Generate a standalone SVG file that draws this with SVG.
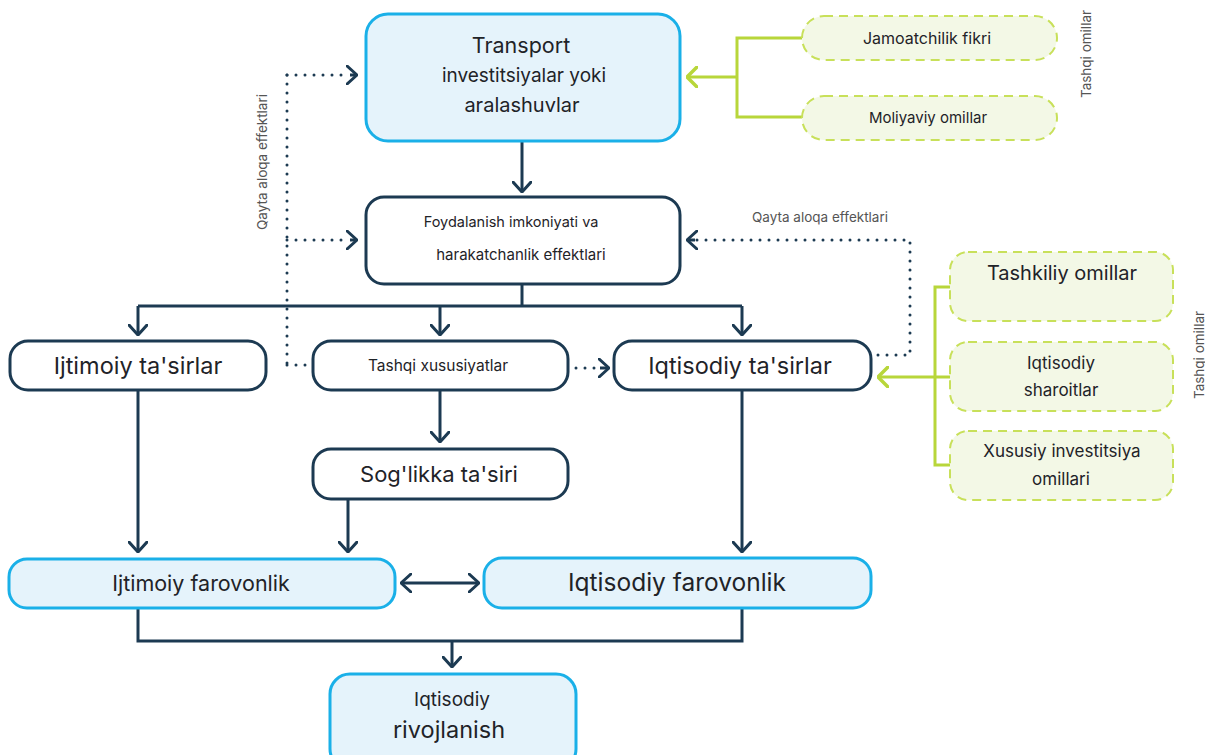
<svg xmlns="http://www.w3.org/2000/svg" width="1205" height="755" viewBox="0 0 1205 755">
<defs>
<style>
.t{font-family:Inter,"Liberation Sans",sans-serif;fill:#1f2328;text-anchor:middle}
.lbl{font-family:Inter,"Liberation Sans",sans-serif;fill:#555;font-size:13.5px;text-anchor:middle}
.dark{fill:#ffffff;stroke:#1c3a52;stroke-width:3}
.blue{fill:#e5f3fb;stroke:#1ab0e8;stroke-width:3}
.green{fill:#f3f8e6;stroke:#c8e05a;stroke-width:2;stroke-dasharray:9 6}
.c{fill:none;stroke:#1c3a52;stroke-width:3}
.dot{fill:none;stroke:#1c3a52;stroke-width:3;stroke-linecap:round;stroke-dasharray:0 9}
.g{fill:none;stroke:#b8d63a;stroke-width:3}
</style>
<marker id="ah" viewBox="0 0 12 20" refX="11" refY="10" markerWidth="12" markerHeight="20" markerUnits="userSpaceOnUse" orient="auto">
<path d="M1,1 L11,10 L1,19" fill="none" stroke="#1c3a52" stroke-width="3" stroke-linecap="round" stroke-linejoin="round"/>
</marker>
<marker id="ahs" viewBox="0 0 12 20" refX="1" refY="10" markerWidth="12" markerHeight="20" markerUnits="userSpaceOnUse" orient="auto">
<path d="M11,1 L1,10 L11,19" fill="none" stroke="#1c3a52" stroke-width="3" stroke-linecap="round" stroke-linejoin="round"/>
</marker>
<marker id="ag" viewBox="0 0 12 22" refX="11" refY="11" markerWidth="12" markerHeight="22" markerUnits="userSpaceOnUse" orient="auto">
<path d="M1,1 L11,11 L1,21" fill="none" stroke="#b8d63a" stroke-width="3.5" stroke-linecap="round" stroke-linejoin="round"/>
</marker>
</defs>

<g id="connectors">
<line class="c" x1="522" y1="142" x2="522" y2="192" marker-end="url(#ah)"/>
<polyline class="c" points="522,285 522,306"/>
<line class="c" x1="138" y1="306" x2="742" y2="306"/>
<line class="c" x1="138" y1="306" x2="138" y2="335" marker-end="url(#ah)"/>
<line class="c" x1="440" y1="306" x2="440" y2="335" marker-end="url(#ah)"/>
<line class="c" x1="742" y1="306" x2="742" y2="335" marker-end="url(#ah)"/>
<line class="c" x1="440" y1="391" x2="440" y2="442" marker-end="url(#ah)"/>
<line class="c" x1="348" y1="500" x2="348" y2="552" marker-end="url(#ah)"/>
<line class="c" x1="138" y1="391" x2="138" y2="552" marker-end="url(#ah)"/>
<line class="c" x1="742" y1="391" x2="742" y2="552" marker-end="url(#ah)"/>
<line class="c" x1="401" y1="583" x2="479" y2="583" marker-start="url(#ahs)" marker-end="url(#ah)"/>
<polyline class="c" points="138,609 138,641 742,641 742,609"/>
<line class="c" x1="452" y1="641" x2="452" y2="667" marker-end="url(#ah)"/>

<!-- dotted feedback -->
<line class="dot" x1="287" y1="75" x2="287" y2="365"/>
<line class="dot" x1="287" y1="75" x2="350" y2="75"/>
<line class="c" x1="350" y1="75" x2="357" y2="75" marker-end="url(#ah)" stroke-width="0"/>
<line class="dot" x1="287" y1="240" x2="350" y2="240"/>
<line class="c" x1="350" y1="240" x2="357" y2="240" marker-end="url(#ah)" stroke-width="0"/>
<line class="dot" x1="287" y1="365" x2="306" y2="365"/>
<line class="dot" x1="576" y1="368" x2="600" y2="368"/>
<line class="c" x1="600" y1="368" x2="609" y2="368" marker-end="url(#ah)" stroke-width="0"/>
<polyline class="dot" points="878,355 910,355 910,240 695,240"/>
<line class="c" x1="695" y1="240" x2="687" y2="240" marker-end="url(#ah)" stroke-width="0"/>

<!-- green connectors -->
<polyline class="g" points="802,38 737,38 737,117 802,117"/>
<line class="g" x1="737" y1="77" x2="687" y2="77" marker-end="url(#ag)"/>
<polyline class="g" points="950,287 935,287 935,465 950,465"/>
<line class="g" x1="950" y1="377" x2="878" y2="377" marker-end="url(#ag)"/>
</g>

<g id="labels">
<text class="lbl" transform="translate(267,162) rotate(-90)">Qayta aloqa effektlari</text>
<text class="lbl" x="820" y="222">Qayta aloqa effektlari</text>
<text class="lbl" transform="translate(1091,54) rotate(-90)">Tashqi omillar</text>
<text class="lbl" transform="translate(1204,355) rotate(-90)">Tashqi omillar</text>
</g>

<g id="n-transport">
<rect class="blue" x="366" y="14" width="314" height="127" rx="22"/>
<text class="t" x="521" y="53" font-size="21.5">Transport</text>
<text class="t" x="524" y="82" font-size="19">investitsiyalar yoki</text>
<text class="t" x="522" y="112" font-size="20">aralashuvlar</text>
</g>

<g id="n-foydalanish">
<rect class="dark" x="366" y="197" width="314" height="87" rx="18"/>
<text class="t" x="511" y="227" font-size="14.5">Foydalanish imkoniyati va</text>
<text class="t" x="521" y="260" font-size="15">harakatchanlik effektlari</text>
</g>

<g id="n-ijtimoiy-tasir">
<rect class="dark" x="10" y="341" width="256" height="49" rx="18"/>
<text class="t" x="138" y="374" font-size="23.5">Ijtimoiy ta'sirlar</text>
</g>

<g id="n-tashqi-xus">
<rect class="dark" x="313" y="341" width="255" height="49" rx="18"/>
<text class="t" x="438" y="371" font-size="15.5">Tashqi xususiyatlar</text>
</g>

<g id="n-iqtisodiy-tasir">
<rect class="dark" x="614" y="341" width="257" height="49" rx="18"/>
<text class="t" x="740" y="374" font-size="23.5">Iqtisodiy ta'sirlar</text>
</g>

<g id="n-soglik">
<rect class="dark" x="313" y="449" width="255" height="50" rx="18"/>
<text class="t" x="439" y="482" font-size="22">Sog'likka ta'siri</text>
</g>

<g id="n-ijtimoiy-far">
<rect class="blue" x="9" y="559" width="386" height="49" rx="18"/>
<text class="t" x="201" y="591" font-size="21.5">Ijtimoiy farovonlik</text>
</g>

<g id="n-iqtisodiy-far">
<rect class="blue" x="484" y="558" width="387" height="50" rx="18"/>
<text class="t" x="677" y="591" font-size="24.5">Iqtisodiy farovonlik</text>
</g>

<g id="n-rivojlanish">
<rect class="blue" x="330" y="674" width="246" height="95" rx="20"/>
<text class="t" x="452" y="706" font-size="19">Iqtisodiy</text>
<text class="t" x="449" y="738" font-size="23.5">rivojlanish</text>
</g>

<g id="n-jamoatchilik">
<rect class="green" x="802" y="16" width="255" height="44" rx="22"/>
<text class="t" x="927" y="44" font-size="16">Jamoatchilik fikri</text>
</g>

<g id="n-moliyaviy">
<rect class="green" x="802" y="96" width="255" height="44" rx="22"/>
<text class="t" x="928" y="123" font-size="15">Moliyaviy omillar</text>
</g>

<g id="n-tashkiliy">
<rect class="green" x="950" y="252" width="223" height="69" rx="18"/>
<text class="t" x="1062" y="280" font-size="20">Tashkiliy omillar</text>
</g>

<g id="n-sharoitlar">
<rect class="green" x="950" y="342" width="223" height="69" rx="18"/>
<text class="t" x="1061" y="369" font-size="17">Iqtisodiy</text>
<text class="t" x="1061" y="396" font-size="17">sharoitlar</text>
</g>

<g id="n-xususiy">
<rect class="green" x="950" y="431" width="223" height="69" rx="18"/>
<text class="t" x="1062" y="457" font-size="17">Xususiy investitsiya</text>
<text class="t" x="1061" y="485" font-size="17">omillari</text>
</g>
</svg>
